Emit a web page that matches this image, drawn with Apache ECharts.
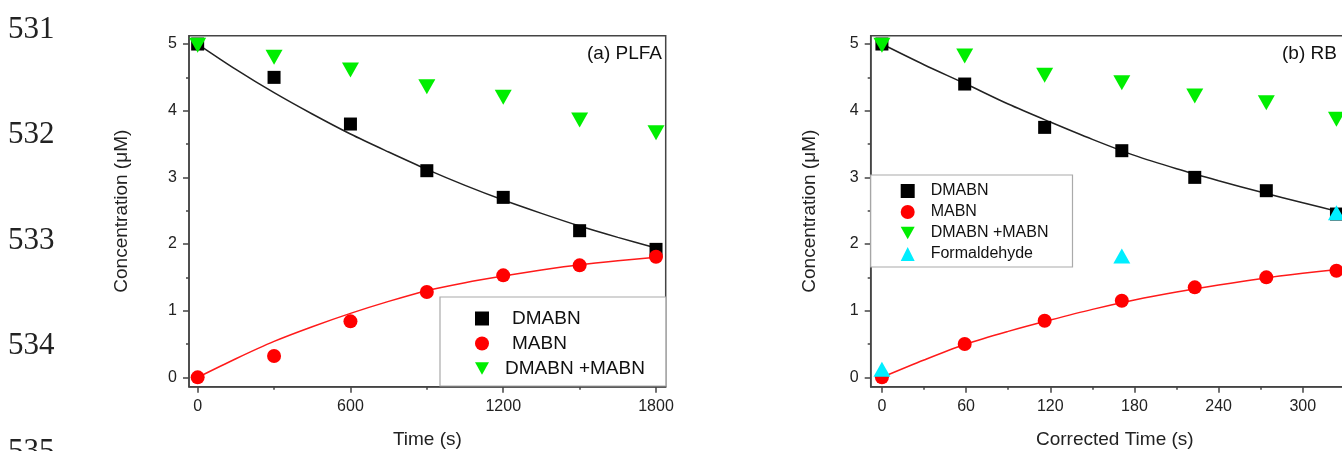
<!DOCTYPE html>
<html>
<head>
<meta charset="utf-8">
<script src="https://cdn.jsdelivr.net/npm/echarts@6/dist/echarts.min.js"></script>
<style>
  html, body { margin: 0; padding: 0; background: #fff; overflow: hidden; }
  #chart { width: 1380px; height: 451px; }
</style>
</head>
<body>
<div id="chart"></div>
<script>
// (a) PLFA
const timeA = [0, 300, 600, 900, 1200, 1500, 1800];
const dmabnA = [5.0, 4.5, 3.8, 3.1, 2.7, 2.2, 1.92];
const mabnA = [0, 0.32, 0.84, 1.28, 1.53, 1.68, 1.81];
const sumA = [4.98, 4.8, 4.61, 4.36, 4.2, 3.86, 3.67];
// fit curves
const fitTimeA = [0, 150, 300, 450, 600, 750, 900, 1050, 1200, 1350, 1500, 1650, 1800];
const dmabnFitA = [5.0, 4.62, 4.27, 3.95, 3.65, 3.38, 3.12, 2.88, 2.66, 2.46, 2.27, 2.10, 1.94];
const mabnFitA = [0, 0.28, 0.54, 0.76, 0.96, 1.14, 1.30, 1.42, 1.52, 1.61, 1.69, 1.75, 1.80];

// (b) RB
const timeB = [0, 59, 116, 171, 223, 274, 324];
const dmabnB = [5.0, 4.4, 3.75, 3.4, 3.0, 2.8, 2.45];
const mabnB = [0, 0.5, 0.85, 1.15, 1.35, 1.5, 1.6];
const sumB = [4.98, 4.82, 4.53, 4.42, 4.22, 4.12, 3.87];
const formTimeB = [0, 171, 324];
const formB = [0.12, 1.82, 2.47];
const fitTimeB = [0, 30, 60, 90, 120, 150, 180, 210, 240, 270, 300, 330];
const dmabnFitB = [5.0, 4.69, 4.40, 4.10, 3.83, 3.57, 3.33, 3.13, 2.95, 2.78, 2.62, 2.46];
const mabnFitB = [0, 0.26, 0.50, 0.69, 0.86, 1.02, 1.16, 1.28, 1.385, 1.48, 1.56, 1.63];

// tick labels
const xTicksA = [0, 600, 1200, 1800];
const xMinorA = [300, 900, 1500];
const xTicksB = [0, 60, 120, 180, 240, 300];
const xMinorB = [30, 90, 150, 210, 270, 330];
const yTicks = [0, 1, 2, 3, 4, 5];
const yMinor = [0.5, 1.5, 2.5, 3.5, 4.5];

const FONT = 'Liberation Sans, Arial, sans-serif';
const DOWN_TRI = 'path://M0,0 L10,0 L5,9 Z';
const pairs = (xs, ys) => xs.map((x, i) => [x, ys[i]]);

const axisLine = { onZero: false, lineStyle: { color: '#444', width: 1.5 } };

function majorX(grid, min, max, ticks, name) {
  return {
    type: 'value', gridIndex: grid, min: min, max: max, position: 'bottom',
    axisLine: axisLine,
    axisTick: { customValues: ticks, length: 6, lineStyle: { color: '#444', width: 1.5 } },
    axisLabel: { customValues: ticks, formatter: v => String(v), fontSize: 16, color: '#222', fontFamily: FONT, margin: 12 },
    splitLine: { show: false },
    name: name, nameLocation: 'middle', nameGap: 44,
    nameTextStyle: { fontSize: 19, color: '#222', fontFamily: FONT }
  };
}
function minorX(grid, min, max, ticks) {
  return {
    type: 'value', gridIndex: grid, min: min, max: max, position: 'bottom',
    axisLine: { show: false, onZero: false },
    axisTick: { customValues: ticks, length: 3, lineStyle: { color: '#444', width: 1.5 } },
    axisLabel: { show: false }, splitLine: { show: false }
  };
}
function majorY(grid, gap) {
  return {
    type: 'value', gridIndex: grid, min: -0.14, max: 5.125, position: 'left',
    axisLine: axisLine,
    axisTick: { customValues: yTicks, length: 6, lineStyle: { color: '#444', width: 1.5 } },
    axisLabel: { customValues: yTicks, formatter: v => String(v), fontSize: 16, color: '#222', fontFamily: FONT, margin: 12 },
    splitLine: { show: false },
    name: 'Concentration (\u03BCM)', nameLocation: 'middle', nameGap: gap,
    nameTextStyle: { fontSize: 19, color: '#222', fontFamily: FONT }
  };
}
function minorY(grid) {
  return {
    type: 'value', gridIndex: grid, min: -0.14, max: 5.125, position: 'left',
    axisLine: { show: false, onZero: false },
    axisTick: { customValues: yMinor, length: 3, lineStyle: { color: '#444', width: 1.5 } },
    axisLabel: { show: false }, splitLine: { show: false }
  };
}

function scatter(name, data, xi, symbol, size, color) {
  return {
    name: name, type: 'scatter', xAxisIndex: xi, yAxisIndex: xi,
    data: data, symbol: symbol, symbolSize: size,
    itemStyle: { color: color, opacity: 1 }, z: 3
  };
}
function fit(name, data, xi, color) {
  return {
    name: name, type: 'line', xAxisIndex: xi, yAxisIndex: xi,
    data: data, smooth: 0.3, showSymbol: false, symbol: 'none',
    lineStyle: { color: color, width: 1.5 }, z: 2
  };
}

function legendRich(size, extra) {
  return {
    a: { fontSize: size, fontFamily: FONT, color: '#111', padding: [0, 0, 0, extra + 7] },
    b: { fontSize: size, fontFamily: FONT, color: '#111', padding: [0, 0, 0, extra] }
  };
}

const chart = echarts.init(document.getElementById('chart'));
chart.setOption({
  backgroundColor: '#fff',
  animation: false,
  grid: [
    { left: 189, top: 35.7, width: 476.7, height: 351, outerBoundsMode: 'none', show: true, borderColor: '#444', borderWidth: 1.5 },
    { left: 870.7, top: 35.7, width: 488.2, height: 351, outerBoundsMode: 'none', show: true, borderColor: '#444', borderWidth: 1.5 }
  ],
  xAxis: [
    majorX(0, -34, 1838, xTicksA, 'Time (s)'),
    minorX(0, -34, 1838, xMinorA),
    majorX(1, -8, 340, xTicksB, 'Corrected Time (s)'),
    minorX(1, -8, 340, xMinorB)
  ],
  yAxis: [majorY(0, 58), minorY(0), majorY(1, 51), minorY(1)],
  legend: [
    {
      data: ['DMABN', 'MABN', 'DMABN +MABN'],
      orient: 'vertical', left: 440, top: 297,
      padding: [12, 21, 8, 35], itemGap: 6, itemWidth: 14, itemHeight: 14,
      backgroundColor: '#fff', borderColor: '#aaa', borderWidth: 1.2,
      formatter: n => (n === 'DMABN +MABN' ? '{b|' + n + '}' : '{a|' + n + '}'),
      textStyle: { rich: legendRich(19, 11) }
    },
    {
      data: ['DMABN', 'MABN', 'DMABN +MABN', 'Formaldehyde'],
      orient: 'vertical', left: 870.7, top: 175,
      padding: [8, 24, 5, 30], itemGap: 5, itemWidth: 14, itemHeight: 14,
      backgroundColor: '#fff', borderColor: '#aaa', borderWidth: 1.2,
      formatter: n => '{b|' + n + '}',
      textStyle: { rich: legendRich(16, 11) }
    }
  ],
  graphic: [
    { type: 'text', left: 8, top: 14, style: { text: '531', font: '31px Liberation Serif', fill: '#222' } },
    { type: 'text', left: 8, top: 119, style: { text: '532', font: '31px Liberation Serif', fill: '#222' } },
    { type: 'text', left: 8, top: 225, style: { text: '533', font: '31px Liberation Serif', fill: '#222' } },
    { type: 'text', left: 8, top: 330, style: { text: '534', font: '31px Liberation Serif', fill: '#222' } },
    { type: 'text', left: 8, top: 436, style: { text: '535', font: '31px Liberation Serif', fill: '#222' } },
    { type: 'text', right: 1380 - 662, top: 44, style: { text: '(a) PLFA', font: '19px Liberation Sans', fill: '#111' } },
    { type: 'text', left: 1282, top: 44, style: { text: '(b) RB', font: '19px Liberation Sans', fill: '#111' } }
  ],
  series: [
    fit('DMABN fit a', pairs(fitTimeA, dmabnFitA), 0, '#222'),
    fit('MABN fit a', pairs(fitTimeA, mabnFitA), 0, '#ff1a1a'),
    scatter('DMABN', pairs(timeA, dmabnA), 0, 'rect', 13, '#000'),
    scatter('MABN', pairs(timeA, mabnA), 0, 'circle', 14, '#ff0000'),
    scatter('DMABN +MABN', pairs(timeA, sumA), 0, DOWN_TRI, [17, 15], '#00ee00'),

    fit('DMABN fit b', pairs(fitTimeB, dmabnFitB), 2, '#222'),
    fit('MABN fit b', pairs(fitTimeB, mabnFitB), 2, '#ff1a1a'),
    scatter('DMABN', pairs(timeB, dmabnB), 2, 'rect', 13, '#000'),
    scatter('MABN', pairs(timeB, mabnB), 2, 'circle', 14, '#ff0000'),
    scatter('DMABN +MABN', pairs(timeB, sumB), 2, DOWN_TRI, [17, 15], '#00ee00'),
    scatter('Formaldehyde', pairs(formTimeB, formB), 2, 'triangle', [17, 15], '#00eeff')
  ]
});
</script>
</body>
</html>
